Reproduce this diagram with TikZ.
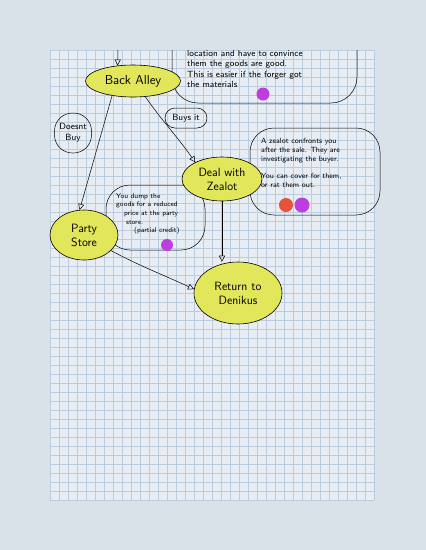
\documentclass[tikz,border=0pt]{standalone}
\usetikzlibrary{arrows.meta,shapes.geometric}
\definecolor{pagebg}{RGB}{218,226,233}
\definecolor{paper}{RGB}{231,237,243}
\definecolor{gridline}{RGB}{186,204,221}
\definecolor{marker}{RGB}{226,230,90}
\definecolor{dotpurple}{RGB}{188,62,222}
\definecolor{dotred}{RGB}{230,82,58}
\begin{document}
\begin{tikzpicture}[x=1pt, y=-1pt,
  place/.style={ellipse, draw, fill=marker, line width=0.6pt, inner sep=0pt, align=center, font=\fontsize{12}{14}\selectfont\sffamily},
  choice/.style={draw, rounded corners=12pt, line width=0.5pt, inner sep=1pt, align=center, font=\fontsize{9}{11}\selectfont\sffamily},
  bubble/.style={draw, rounded corners=24pt, line width=0.5pt},
  note/.style={anchor=north west, inner sep=0pt, align=left, font=\fontsize{7.5}{9}\selectfont\sffamily},
  flow/.style={-{Triangle[open,length=6pt,width=6pt]}, line width=0.5pt}]
\useasboundingbox (0,0) rectangle (426,550);

% Page and squared paper
\fill[pagebg] (0,0) rectangle (426,550);
\fill[paper] (50,50) rectangle (375,500);
\foreach \gx in {0,...,36}
  \draw[gridline, line width=0.4pt] ({50+9*\gx},50) -- ({50+9*\gx},500);
\foreach \gy in {0,...,50}
  \draw[gridline, line width=0.4pt] (50,{50+9*\gy}) -- (374,{50+9*\gy});

% Note bubbles
\begin{scope}
\clip (50,50) rectangle (375,500);
\node[bubble, rounded corners=26pt, minimum width=185pt, minimum height=82pt] (forgernote) at (264.5,62) {};
\node[note, font=\fontsize{9}{10.5}\selectfont\sffamily] (forgertext) at (187,50) {location and have to convince\\them the goods are good.\\This is easier if the forger got\\the materials};
\end{scope}
\fill[dotpurple] (263,94) circle (6.5);

\node[bubble, minimum width=130pt, minimum height=87pt] (zealotnote) at (315,171.5) {};
\node[note] (zealottext) at (261,138) {A zealot confronts you\\after the sale. They are\\investigating the buyer.\\[8pt]You can cover for them,\\or rat them out.};
\fill[dotred] (286,205) circle (7);
\fill[dotpurple] (302,205) circle (7.5);

\node[bubble, minimum width=99pt, minimum height=65pt] (dumpnote) at (155.5,217.5) {};
\node[note, font=\fontsize{7}{8.7}\selectfont\sffamily] (dumptext) at (116,193) {You dump the\\goods for a reduced\\\hspace*{8pt}price at the party\\\hspace*{10pt}store.\\\hspace*{18pt}(partial credit)};
\fill[dotpurple] (167,245) circle (6);

% Places
\node[place, font=\fontsize{13}{15}\selectfont\sffamily, minimum width=95pt, minimum height=32pt] (backalley) at (133,81) {Back Alley};
\node[place, minimum width=80pt, minimum height=44pt] (dealzealot) at (222,179) {Deal with\\Zealot};
\node[place, minimum width=68pt, minimum height=50pt] (partystore) at (84,235) {Party\\Store};
\node[place, minimum width=88pt, minimum height=62pt] (returnden) at (238,293) {Return to\\Denikus};

% Choices
\node[choice, rounded corners=18pt, minimum width=37pt, minimum height=40pt] (doesntbuy) at (73,133) {Doesnt\\Buy};
\node[choice, rounded corners=10pt, minimum width=42pt, minimum height=20pt] (buysit) at (186,118) {Buys it};

% Connectors
\coordinate (topin) at (118,50);
\draw[flow] (topin) -- (backalley.135);
\draw[flow] (backalley.215) -- (partystore.100);
\draw[flow] (backalley.308) to[out=-55, in=125] (dealzealot.148);
\draw[flow] (dealzealot.south) -- (dealzealot.south |- returnden.north);
\draw[flow] (partystore.-30) to[out=-28, in=155] (returnden.175);
\end{tikzpicture}
\end{document}
